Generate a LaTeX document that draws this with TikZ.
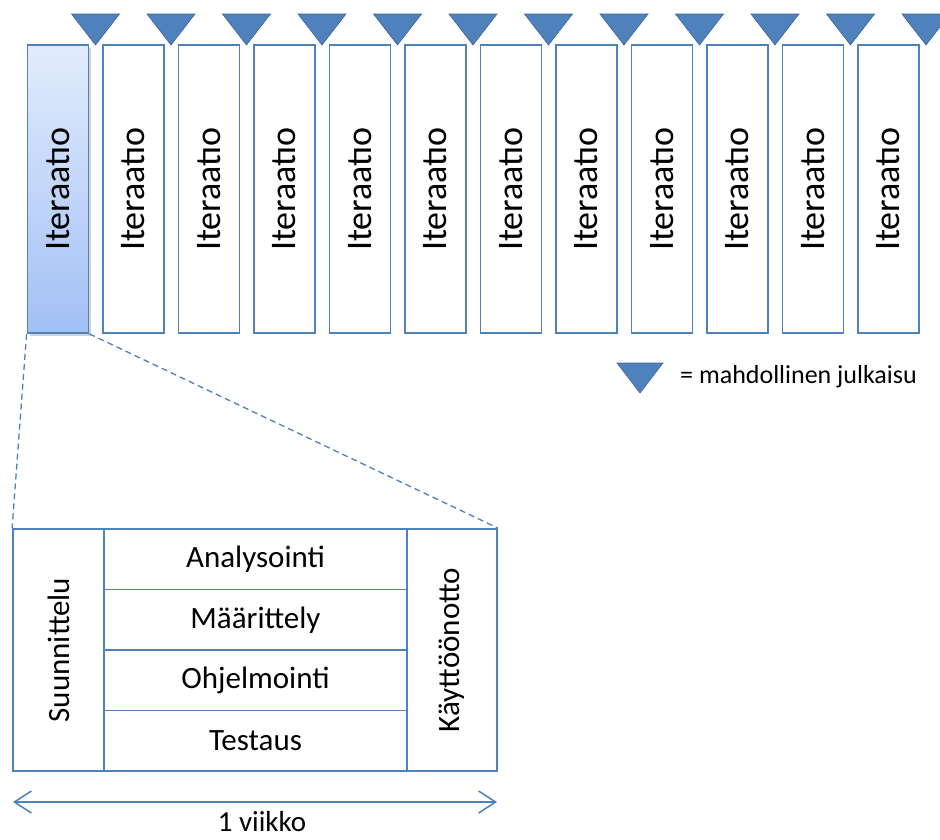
\documentclass[tikz,border=0pt]{standalone}
\usepackage{fontspec}
\setmainfont{Carlito}
\usetikzlibrary{arrows.meta,shadows}
\definecolor{lineblue}{RGB}{79,129,189}
\definecolor{triblue}{RGB}{79,129,189}
\definecolor{triedge}{RGB}{60,100,150}
\definecolor{gradtop}{RGB}{226,236,252}
\definecolor{gradbot}{RGB}{162,192,245}
\tikzset{
  iterbox/.style={draw=lineblue, line width=1.8pt, fill=white, minimum width=61pt,
    minimum height=288pt, inner sep=0pt},
  firstbox/.style={iterbox, top color=gradtop, bottom color=gradbot,
    drop shadow={opacity=0.35, shadow xshift=2pt, shadow yshift=-3pt}},
  itertext/.style={rotate=90, font=\fontsize{36}{40}\selectfont, inner sep=0pt},
  cell/.style={draw=lineblue, line width=1.8pt, inner sep=0pt},
  celltext/.style={font=\fontsize{31}{36}\selectfont, inner sep=0pt},
  release/.style={fill=triblue, draw=triedge, line width=0.6pt, line join=miter},
  zoomline/.style={draw=lineblue, line width=1.3pt, dash pattern=on 6pt off 4pt},
  span/.style={draw=lineblue, line width=1.5pt, {Straight Barb[length=17pt, width=22pt]}-{Straight Barb[length=17pt, width=22pt]}}
}
\begin{document}
\begin{tikzpicture}[x=1pt,y=1pt]
\useasboundingbox (0,0) rectangle (940,-839);
\clip (0,0) rectangle (940,-839);
\fill[white] (0,0) rectangle (940,-839);

% iteration columns
\node[firstbox] (it0) at (58,-189) {};
\node[itertext] (t0) at (it0.center) {Iteraat\i o};
\foreach \k in {1,...,11}{
  \node[iterbox] (it\k) at (58+75.5*\k,-189) {};
  \node[itertext] (t\k) at (it\k.center) {Iteraat\i o};
}

% release markers between columns
\foreach \k in {0,...,11}{
  \pgfmathsetmacro{\tx}{95.5+75.5*\k}
  \path[release] (\tx-24,-14) -- (\tx+24,-14) -- (\tx,-45) -- cycle;
}

% legend
\path[release] (617,-363) -- (663,-363) -- (640,-393) -- cycle;
\node[anchor=west, font=\fontsize{26}{30}\selectfont, inner sep=0pt] (legend) at (680,-377) {= mahdollinen julkaisu};

% expanded iteration
\node[cell, minimum width=484pt, minimum height=242pt] (frame) at (255,-650) {};
\node[cell, minimum width=91pt, minimum height=242pt] (suun) at (58.5,-650) {};
\node[cell, minimum width=90pt, minimum height=242pt] (kay) at (452,-650) {};
\node[cell, minimum width=303pt, minimum height=60.5pt] (r1) at (255.5,-559.25) {};
\node[cell, minimum width=303pt, minimum height=60.5pt] (r2) at (255.5,-619.75) {};
\node[cell, minimum width=303pt, minimum height=60.5pt] (r3) at (255.5,-680.25) {};
\node[cell, minimum width=303pt, minimum height=60.5pt] (r4) at (255.5,-740.75) {};

\node[celltext, rotate=90] (suunt) at (suun.center) {Suunnittelu};
\node[celltext, rotate=90] (kayt) at (kay.center) {Käyttöönotto};
\node[celltext] (r1t) at (r1.center) {Analysointi};
\node[celltext] (r2t) at (r2.center) {Määrittely};
\node[celltext] (r3t) at (r3.center) {Ohjelmointi};
\node[celltext] (r4t) at (r4.center) {Testaus};

% zoom lines
\draw[zoomline] (it0.south west) -- (frame.north west);
\draw[zoomline] (it0.south east) -- (frame.north east);

% duration
\coordinate (wl) at (13,-802);
\coordinate (wr) at (497,-802);
\draw[span] (wl) -- (wr);
\node[anchor=base, font=\fontsize{29}{33}\selectfont, inner sep=0pt] (week) at (262,-831) {1 viikko};
\end{tikzpicture}
\end{document}
